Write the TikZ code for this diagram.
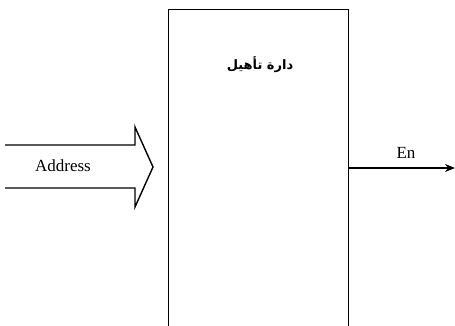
\documentclass[tikz,border=0pt]{standalone}
\usepackage{fontspec}
\setmainfont{Liberation Serif}
\newfontfamily\arabicfont[Script=Arabic]{DejaVu Sans}
\TeXXeTstate=1
\usetikzlibrary{arrows.meta}
\begin{document}
\begin{tikzpicture}[x=1pt,y=1pt,
  line/.style={draw=black,line width=1.4pt},
  lbl/.style={font=\fontsize{17}{19}\selectfont,inner sep=0pt},
  sig/.style={line,-{Stealth[length=10pt,width=8pt]}}]
\useasboundingbox (0,0) rectangle (455,325);
\clip (0,0) rectangle (455,325);
% main block (bottom lies beyond the picture)
\node[line,minimum width=180pt,minimum height=330pt,inner sep=0pt,anchor=north west] (blk) at (168,316) {};
\node[inner sep=0pt] (title) at (260,260) {\arabicfont\bfseries\fontsize{13}{15}\selectfont\beginR دارة تأهيل\endR};
% hollow input arrow
\draw[line,line join=miter] (5,180) -- (135,180) -- (135,198) -- (153,158) -- (135,118) -- (135,137) -- (5,137);
\node[lbl] (addr) at (63,159) {Address};
% output
\coordinate (en) at (455,157);
\draw[sig] (blk.east |- en) -- (en);
\node[lbl] (enl) at (406,172) {En};
\end{tikzpicture}
\end{document}
